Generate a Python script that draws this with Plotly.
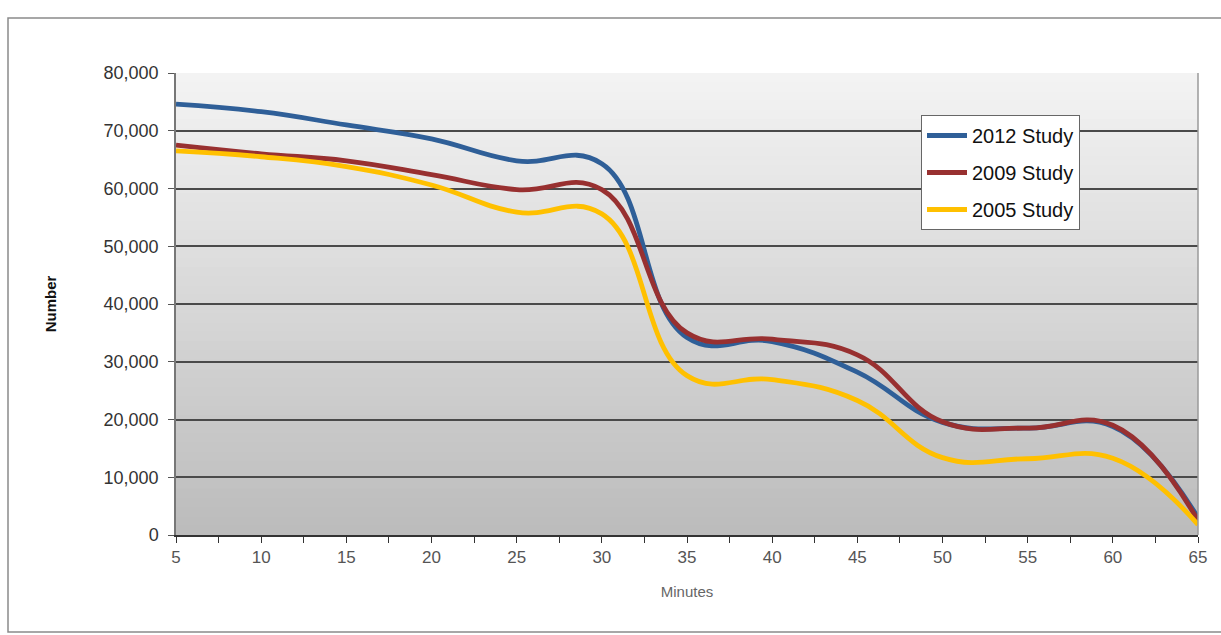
import plotly.graph_objects as go

minutes = [5, 10, 15, 20, 25, 30, 35, 40, 45, 50, 55, 60, 65]
study_2012 = [74600, 73300, 71000, 68600, 64800, 64300, 34200, 33500, 28200, 19500, 18500, 18800, 3000]
study_2009 = [67500, 66000, 64800, 62400, 59800, 59800, 35000, 33900, 31200, 19600, 18500, 19000, 2500]
study_2005 = [66500, 65500, 63800, 60600, 55900, 55600, 27600, 26900, 23300, 13400, 13200, 13300, 1800]

series = [
    ("2012 Study", study_2012, "#2f5f98"),
    ("2009 Study", study_2009, "#983030"),
    ("2005 Study", study_2005, "#ffc000"),
]

W, H = 1221, 635
L, R, T, B = 176, 23, 73, 100
pw, ph = W - L - R, H - T - B

def px2paper_x(px):
    return (px - L) / pw

def px2paper_y(py):
    return (H - B - py) / ph

fig = go.Figure()
for name, vals, col in series:
    fig.add_trace(go.Scatter(
        x=minutes, y=vals, name=name, mode="lines", legendgroup=name,
        line=dict(color=col, width=4.8, shape="spline", smoothing=1.25),
    ))

shapes = []
# gradient background of plot area
n = 50
top_c, bot_c = (243, 243, 243), (188, 188, 188)
for i in range(n):
    f = i / (n - 1)
    c = tuple(int(round(top_c[k] + (bot_c[k] - top_c[k]) * f)) for k in range(3))
    shapes.append(dict(type="rect", xref="paper", yref="paper",
                       x0=0, x1=1, y0=max(0, 1 - (i + 1.6) / n), y1=1 - i / n,
                       fillcolor="rgb(%d,%d,%d)" % c, line=dict(width=0), layer="below"))
# outer chart frame
shapes.append(dict(type="rect", xref="paper", yref="paper",
                   x0=px2paper_x(8), x1=px2paper_x(1240),
                   y0=px2paper_y(632), y1=px2paper_y(18),
                   line=dict(color="#8a8a8a", width=1.5), fillcolor="rgba(0,0,0,0)", layer="below"))
# right border of plot area
shapes.append(dict(type="line", xref="paper", yref="paper", x0=1, x1=1, y0=0, y1=1,
                   line=dict(color="#9a9a9a", width=1.5)))

fig.update_layout(
    width=W, height=H,
    margin=dict(l=L, r=R, t=T, b=B),
    paper_bgcolor="white",
    plot_bgcolor="rgba(0,0,0,0)",
    font=dict(family="Liberation Sans, Arial, sans-serif", color="#333333"),
    shapes=shapes,
    showlegend=True,
    legend=dict(
        x=px2paper_x(921), y=px2paper_y(115), xanchor="left", yanchor="top",
        bgcolor="white", bordercolor="#666666", borderwidth=1,
        font=dict(size=20, color="#111111"),
        itemwidth=40, tracegroupgap=8,
    ),
)

fig.update_xaxes(
    range=[5, 65], tickmode="array", tickvals=minutes, ticktext=[str(m) for m in minutes],
    tickfont=dict(size=17, color="#555555"),
    showgrid=False, zeroline=False,
    showline=True, linecolor="#333333", linewidth=1.5,
    ticks="outside", ticklen=6, tickcolor="#333333",
    minor=dict(dtick=2.5, tick0=5, ticks="outside", ticklen=6, tickcolor="#333333", showgrid=False),
    title=dict(text="Minutes", font=dict(size=15, color="#666666"), standoff=20),
)
fig.update_yaxes(
    range=[0, 80000], dtick=10000, tickformat=",",
    tickfont=dict(size=18, color="#333333"),
    showgrid=True, gridcolor="#4a4a4a", gridwidth=1.5,
    zeroline=False,
    showline=True, linecolor="#777777", linewidth=1.5,
    ticks="outside", ticklen=6, tickcolor="#555555",
    ticklabelstandoff=6,
    title=dict(text="<b>Number</b>", font=dict(size=15, color="#111111"), standoff=43),
)

fig.write_html("out.html")
